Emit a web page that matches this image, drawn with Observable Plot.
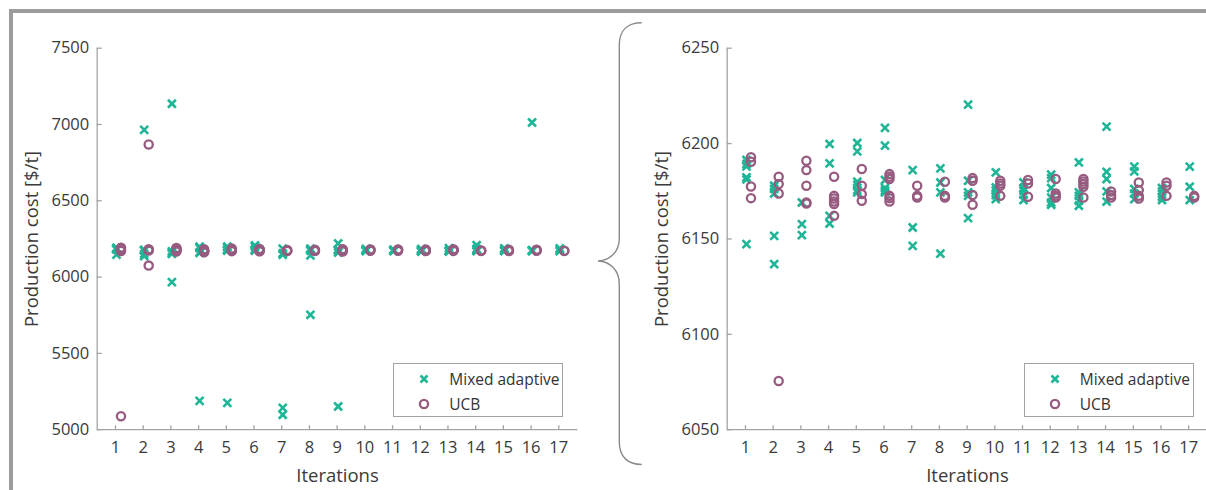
<!DOCTYPE html>
<html>
<head>
<meta charset="utf-8">
<script src="https://cdn.jsdelivr.net/npm/d3@7"></script>
<script src="https://cdn.jsdelivr.net/npm/@observablehq/plot@0.6"></script>
<style>
  html, body { margin: 0; padding: 0; background: #fff; overflow: hidden; }
  #wrap { position: relative; width: 1206px; height: 490px; overflow: hidden; background: #fff; font-family: "Open Sans", sans-serif; }
  .panel { position: absolute; top: 0; }
  .legend { position: absolute; box-sizing: border-box; border: 1.3px solid #a3a3a3; background: #fff; font-size: 15.5px; color: #333; }
  .legend .row { position: absolute; left: 0; height: 20px; }
  .legend svg { position: absolute; left: 21px; top: 0; }
  .legend span { position: absolute; left: 55px; top: 0; white-space: nowrap; line-height: 20px; }
  #overlay { position: absolute; left: 0; top: 0; pointer-events: none; }
</style>
</head>
<body>
<div id="wrap"></div>
<script>
// ---- data ----
const iterations = [1,2,3,4,5,6,7,8,9,10,11,12,13,14,15,16,17];
const seriesNames = ["Mixed adaptive", "UCB"];
const mixedAdaptive = [
  [6191.4, 6189.3, 6188.0, 6182.3, 6181.2, 6147.3],
  [6965, 6177.9, 6176.2, 6173.8, 6151.6, 6136.8],
  [7136, 6169.1, 6157.8, 6152.0, 5967],
  [6199.8, 6189.6, 6162.1, 6158.1, 5189],
  [6200.3, 6195.9, 6180.0, 6178.4, 6175.6, 6174.4, 5176],
  [6208.2, 6198.9, 6180.9, 6176.7, 6175.3, 6174.4],
  [6186.1, 6156.0, 6146.4, 5143, 5098],
  [6187.0, 6179.6, 6174.4, 6142.3, 5753],
  [6220.4, 6180.5, 6174.4, 6172.6, 6160.9, 5152],
  [6184.9, 6177.0, 6175.3, 6173.0, 6170.9],
  [6179.6, 6176.7, 6175.3, 6173.2, 6170.4],
  [6183.7, 6181.9, 6176.7, 6171.7, 6169.1, 6167.9],
  [6190.1, 6174.4, 6172.6, 6170.0, 6167.4],
  [6208.9, 6185.2, 6181.4, 6174.9, 6169.6],
  [6187.9, 6185.4, 6176.2, 6173.8, 6170.9],
  [7013, 6176.7, 6174.9, 6172.1, 6170.4],
  [6187.9, 6177.4, 6170.4]
];
const ucb = [
  [6192.8, 6190.5, 6177.5, 6171.4, 5088],
  [6869, 6182.6, 6178.8, 6173.8, 6075.5],
  [6191.0, 6186.1, 6177.9, 6169.1, 6168.6],
  [6182.6, 6172.6, 6171.2, 6169.6, 6168.3, 6162.1],
  [6186.7, 6177.9, 6173.5, 6170.0],
  [6184.0, 6182.6, 6181.4, 6172.6, 6171.4, 6169.6],
  [6177.9, 6172.6, 6171.7],
  [6180.0, 6172.6, 6171.7],
  [6181.9, 6180.5, 6173.0, 6167.9],
  [6180.5, 6179.1, 6177.9, 6172.6],
  [6180.9, 6179.1, 6172.1],
  [6181.4, 6173.8, 6172.6, 6171.7],
  [6181.4, 6180.1, 6178.8, 6177.4, 6171.7],
  [6174.9, 6173.0, 6171.7],
  [6179.6, 6175.6, 6172.6, 6171.2],
  [6179.6, 6177.9, 6172.6],
  [6172.6, 6171.7]
];
const leftYTicks = [5000, 5500, 6000, 6500, 7000, 7500];
const rightYTicks = [6050, 6100, 6150, 6200, 6250];
const xLabel = "Iterations";
const yLabel = "Production cost [$/t]";

// ---- styles ----
const teal = "#1fb597";
const mauve = "#975b80";
const axisColor = "#a3a3a3";
const textColor = "#3a3a3a";
const xDomain = [0.34, 17.686];

const mixedRows = iterations.flatMap((it, i) => mixedAdaptive[i].map(v => ({iteration: it, cost: v})));
const ucbRows = iterations.flatMap((it, i) => ucb[i].map(v => ({iteration: it, cost: v})));

function panel({yDomain, yTicks, width, marginLeft, marginRight}) {
  const inRange = d => d.cost >= yDomain[0] && d.cost <= yDomain[1];
  return Plot.plot({
    width, height: 490,
    marginTop: 47.7, marginBottom: 60.8, marginLeft, marginRight,
    x: {domain: xDomain},
    y: {domain: yDomain},
    style: {fontFamily: "Open Sans", fontSize: "16px", color: textColor, background: "transparent", overflow: "visible"},
    marks: [
      Plot.ruleX([xDomain[0]], {stroke: axisColor, strokeWidth: 1.3}),
      Plot.ruleY([yDomain[0]], {stroke: axisColor, strokeWidth: 1.3}),
      Plot.axisY(yTicks, {tickSize: 5, dx: 5, tickFormat: () => "", stroke: axisColor, strokeWidth: 1.3, label: null}),
      Plot.axisY(yTicks, {tickSize: 0, tickPadding: 8, label: null, fill: textColor, fontSize: 16.5, tickFormat: d => String(d)}),
      Plot.axisX(iterations, {tickSize: 4, dy: -4, tickFormat: () => "", stroke: axisColor, strokeWidth: 1.3, label: null}),
      Plot.axisX(iterations, {tickSize: 0, tickPadding: 12, label: null, fill: textColor, fontSize: 16.5, tickFormat: d => String(d)}),
      Plot.text([xLabel], {frameAnchor: "bottom", dy: 46.8, lineAnchor: "middle", textAnchor: "middle", fontSize: 18.5, fill: textColor}),
      Plot.text([yLabel], {frameAnchor: "left", dx: -64.7, rotate: -90, lineAnchor: "middle", textAnchor: "middle", fontSize: 18.5, fill: textColor}),
      Plot.dot(mixedRows.filter(inRange), {x: "iteration", y: "cost", dx: 1, symbol: "times", r: 3.7, stroke: teal, strokeWidth: 2.6}),
      Plot.dot(ucbRows.filter(inRange), {x: "iteration", y: "cost", dx: 5.5, r: 4.1, stroke: mauve, strokeWidth: 2.3, fill: "none"})
    ]
  });
}

const wrap = document.getElementById("wrap");

const left = panel({yDomain: [5000, 7500], yTicks: leftYTicks, width: 600, marginLeft: 96.7, marginRight: 22.7});
left.classList.add("panel");
left.style.left = "0px";
wrap.appendChild(left);

const right = panel({yDomain: [6050, 6250], yTicks: rightYTicks, width: 608, marginLeft: 126.7, marginRight: 0.8});
right.classList.add("panel");
right.style.left = "600px";
wrap.appendChild(right);

// legends
function legend(leftPx) {
  const box = document.createElement("div");
  box.className = "legend";
  Object.assign(box.style, {left: leftPx + "px", top: "363.3px", width: "170px", height: "53.4px"});
  const rows = [
    {name: seriesNames[0], top: 5, icon: `<svg width="18" height="20"><path d="M5.5,6.5L12.5,13.5M12.5,6.5L5.5,13.5" stroke="${teal}" stroke-width="2.6"/></svg>`},
    {name: seriesNames[1], top: 29.4, icon: `<svg width="18" height="20"><circle cx="9" cy="10" r="4.1" fill="none" stroke="${mauve}" stroke-width="2.3"/></svg>`}
  ];
  for (const r of rows) {
    const row = document.createElement("div");
    row.className = "row";
    row.style.top = r.top + "px";
    row.style.width = "100%";
    row.innerHTML = r.icon + `<span>${r.name}</span>`;
    box.appendChild(row);
  }
  wrap.appendChild(box);
}
legend(393.3);
legend(1023.7);

// frame + brace overlay
const ns = "http://www.w3.org/2000/svg";
const ov = document.createElementNS(ns, "svg");
ov.setAttribute("id", "overlay");
ov.setAttribute("width", 1206);
ov.setAttribute("height", 490);
ov.innerHTML = `
  <path d="M11,490 V11 H1206" fill="none" stroke="#9c9c9c" stroke-width="4"/>
  <path d="M641.7,22.7 C628,22.7 619.3,30 619.3,45 V238 C619.3,252 610,260.5 598,261 C610,261.5 619.3,270 619.3,284 V442 C619.3,457 628,464.5 641.7,464.5"
        fill="none" stroke="#8a8a8a" stroke-width="1.4"/>
`;
wrap.appendChild(ov);
</script>
</body>
</html>
